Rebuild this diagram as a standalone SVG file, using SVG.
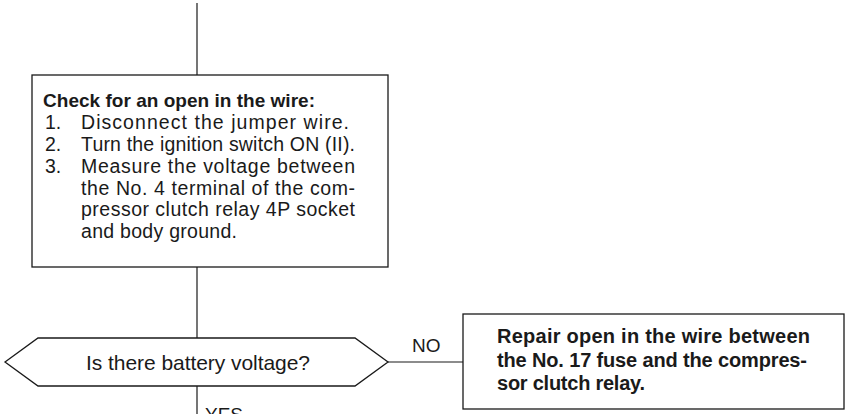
<svg xmlns="http://www.w3.org/2000/svg" width="846" height="414" viewBox="0 0 846 414">
<style>
.shape{fill:#fff;stroke:#1a1a1a;stroke-width:1.3}
.conn{stroke:#1a1a1a;stroke-width:1.2;fill:none}
.t{font-family:"Liberation Sans",Arial,Helvetica,sans-serif;fill:#1a1a1a}
.r{font-size:19.5px}
.b{font-size:19px;font-weight:bold}
.q{font-size:21px}
.lbl{font-size:19px}
.bb{font-size:20px;font-weight:bold}
</style>
<rect width="846" height="414" fill="#fff"/>
<g id="connectors">
<line class="conn" x1="197" y1="3" x2="197" y2="75"/>
<line class="conn" x1="197" y1="267" x2="197" y2="338"/>
<line class="conn" x1="197" y1="386" x2="197" y2="414"/>
<line class="conn" x1="388" y1="362" x2="463" y2="362"/>
<text class="t lbl" x="412" y="352">NO</text>
<text class="t lbl" x="205" y="421">YES</text>
</g>
<g id="check-box">
<rect class="shape" x="32" y="75" width="356" height="192"/>
<text class="t b" x="43" y="107" textLength="272" lengthAdjust="spacing">Check for an open in the wire:</text>
<text class="t r" x="45" y="129">1.</text>
<text class="t r" x="81" y="129" textLength="268" lengthAdjust="spacing">Disconnect the jumper wire.</text>
<text class="t r" x="45" y="151">2.</text>
<text class="t r" x="81" y="151" textLength="274" lengthAdjust="spacing">Turn the ignition switch ON (II).</text>
<text class="t r" x="45" y="173">3.</text>
<text class="t r" x="81" y="173" textLength="274" lengthAdjust="spacing">Measure the voltage between</text>
<text class="t r" x="81" y="195" textLength="274" lengthAdjust="spacing">the No. 4 terminal of the com-</text>
<text class="t r" x="81" y="216" textLength="274" lengthAdjust="spacing">pressor clutch relay 4P socket</text>
<text class="t r" x="81" y="238" textLength="156" lengthAdjust="spacing">and body ground.</text>
</g>
<g id="decision">
<polygon class="shape" points="5,362 38,338 355,338 388,362 355,386 38,386"/>
<text class="t q" x="86" y="369.5" textLength="224" lengthAdjust="spacing">Is there battery voltage?</text>
</g>
<g id="repair-box">
<rect class="shape" x="463" y="314" width="381" height="95"/>
<text class="t bb" x="497" y="343" textLength="313" lengthAdjust="spacing">Repair open in the wire between</text>
<text class="t bb" x="497" y="367" textLength="310" lengthAdjust="spacing">the No. 17 fuse and the compres-</text>
<text class="t bb" x="497" y="390" textLength="148" lengthAdjust="spacing">sor clutch relay.</text>
</g>
</svg>
